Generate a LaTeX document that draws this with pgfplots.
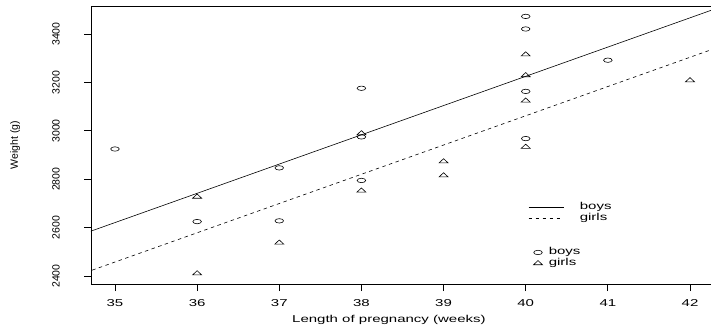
\documentclass[border=0pt]{standalone}
\usepackage{fontspec}
\setmainfont{Liberation Sans}
\newfontfamily\hfont[FakeStretch=1.5]{Liberation Sans}
\usepackage{pgfplots}
\pgfplotsset{compat=1.18}
\pgfdeclareplotmark{ellipseo}{%
  \pgfpathellipse{\pgfpointorigin}{\pgfpoint{4.3pt}{0pt}}{\pgfpoint{0pt}{2.2pt}}%
  \pgfusepathqstroke}
\pgfdeclareplotmark{wtri}{%
  \pgfpathmoveto{\pgfpoint{-4.5pt}{-1.8pt}}%
  \pgfpathlineto{\pgfpoint{4.5pt}{-1.8pt}}%
  \pgfpathlineto{\pgfpoint{0pt}{2.4pt}}%
  \pgfpathclose\pgfusepathqstroke}
\pgfplotstableread{
x y
40 2968
38 2795
40 3163
35 2925
36 2625
37 2847
41 3292
40 3473
37 2628
38 3176
40 3421
38 2975
}\boys
\pgfplotstableread{
x y
40 3317
36 2729
40 2935
38 2754
42 3210
39 2817
40 3126
37 2539
36 2412
38 2991
39 2875
40 3231
}\girls
\begin{document}
\begin{tikzpicture}
\useasboundingbox (-91pt,-45pt) rectangle (620pt,284pt);
\begin{axis}[
  at={(0,0)}, anchor=south west,
  scale only axis, width=622pt, height=278pt,
  xmin=34.708, xmax=42.28, ymin=2367, ymax=3516,
  axis line style={line width=0.8pt},
  xtick={35,36,37,38,39,40,41,42},
  ytick={2400,2600,2800,3000,3200,3400},
  tick align=outside, major tick length=7pt,
  tick style={line width=0.8pt, black},
  xtick pos=bottom, ytick pos=left,
  /pgf/number format/assume math mode=true,
  /pgf/number format/1000 sep={},
  xticklabel style={font=\hfont, anchor=north, inner sep=0pt},
  xticklabel shift=8pt,
  yticklabel style={font=\fontsize{10.5}{12}\selectfont, rotate=90, anchor=south, inner sep=0pt},
  yticklabel shift=24pt,
  xlabel={Length of pregnancy (weeks)},
  xlabel style={font=\hfont, at={(axis description cs:0.479,0)}, anchor=base, yshift=-38pt},
  ylabel={Weight (g)},
  ylabel style={font=\fontsize{10.5}{12}\selectfont, at={(axis description cs:-0.122,0.5)}, anchor=center, rotate=0},
  legend cell align=left,
  legend image code/.code={\draw[#1] (0pt,0pt) -- (35pt,0pt);},
  legend style={at={(axis description cs:0.7026,0.295)}, anchor=north west,
    draw=none, fill=none, inner sep=0pt, column sep=16pt, row sep=0pt,
    font=\hfont, nodes={inner sep=0pt, text height=7.5pt, text depth=3pt}},
]
\addplot[black, line width=0.6pt, no markers] coordinates {(34.0,2499.98) (43.0,3588.0)};
\addlegendentry{boys}
\addplot[black, line width=0.6pt, no markers, dash pattern=on 3.5pt off 3.5pt] coordinates {(34.0,2336.94) (43.0,3424.95)};
\addlegendentry{girls}
\addplot[only marks, mark=ellipseo, black, line width=0.6pt, forget plot] table[x=x,y=y] {\boys};
\addplot[only marks, mark=wtri, black, line width=0.6pt, forget plot] table[x=x,y=y] {\girls};
\end{axis}
\begin{axis}[
  at={(0,0)}, anchor=south west,
  scale only axis, width=622pt, height=278pt,
  hide axis, xmin=0, xmax=1, ymin=0, ymax=1,
  legend cell align=left,
  legend style={at={(axis description cs:0.7106,0.133)}, anchor=north west,
    draw=none, fill=none, inner sep=0pt, column sep=6pt, row sep=0pt,
    font=\hfont, nodes={inner sep=0pt, text height=7.5pt, text depth=3pt}},
]
\addlegendimage{legend image code/.code={\draw[black,line width=0.6pt] (0pt,0pt) ellipse [x radius=4.3pt, y radius=2.2pt];}}
\addlegendentry{boys}
\addlegendimage{legend image code/.code={\draw[black,line width=0.6pt] (-4.5pt,-1.8pt) -- (4.5pt,-1.8pt) -- (0pt,2.4pt) -- cycle;}}
\addlegendentry{girls}
\end{axis}
\end{tikzpicture}
\end{document}
